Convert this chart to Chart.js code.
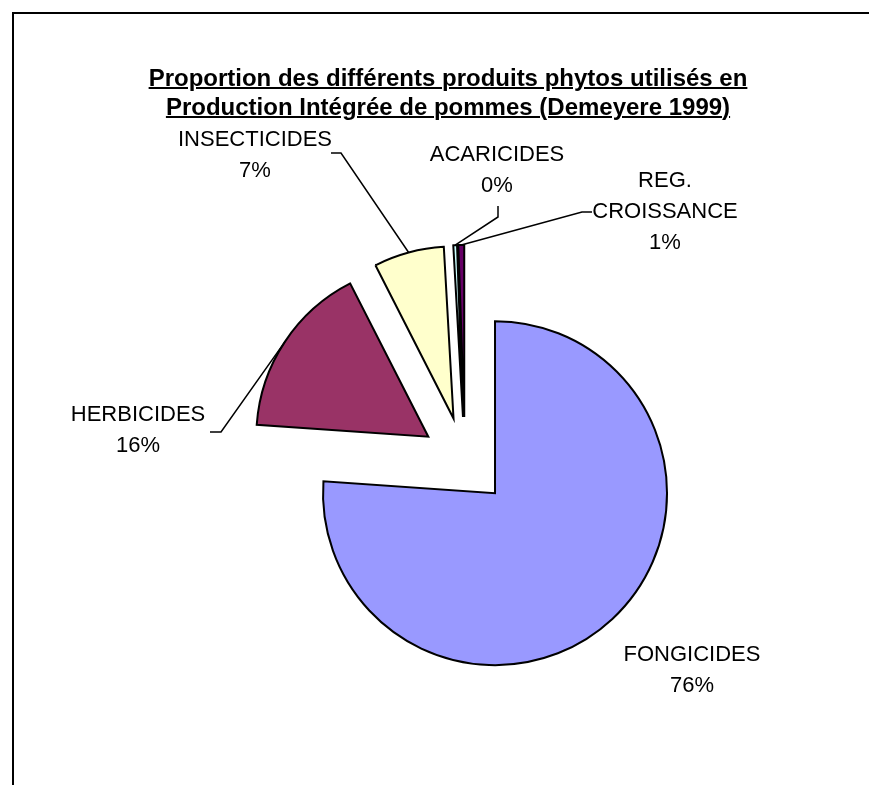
<!DOCTYPE html>
<html lang="fr">
<head>
    <meta charset="UTF-8">
    <title>Produits phytos en Production Intégrée</title>
    <style>
        body {
            margin: 0;
            width: 869px;
            height: 785px;
            overflow: hidden;
            position: relative;
            background: #fff;
            font-family: "Liberation Sans", Arial, sans-serif;
        }
        .frame {
            position: absolute;
            left: 12px;
            top: 12px;
            width: 900px;
            height: 800px;
            border-left: 2px solid #000;
            border-top: 2px solid #000;
        }
        .title {
            position: absolute;
            left: 12px;
            width: 872px;
            text-align: center;
            font-weight: bold;
            font-size: 24px;
            line-height: 28px;
        }
        .title span {
            text-decoration: underline;
            text-decoration-thickness: 2px;
        }
        #chart {
            position: absolute;
            left: 0;
            top: 0;
        }
    </style>
    <script src="https://cdn.jsdelivr.net/npm/chart.js"></script>
</head>
<body>
    <div class="frame"></div>
    <canvas id="chart" width="869" height="785"></canvas>
    <div class="title" style="top:64px"><span>Proportion des différents produits phytos utilisés en</span></div>
    <div class="title" style="top:93px"><span>Production Intégrée de pommes (Demeyere 1999)</span></div>

    <script>
        // data (shares in %)
        const categories = ['FONGICIDES', 'HERBICIDES', 'INSECTICIDES', 'ACARICIDES', ['REG.', 'CROISSANCE']];
        const shares = [76.1, 16.4, 6.6, 0.35, 0.55];
        const sliceColors = ['#9999FF', '#993366', '#FFFFCC', '#CCFFFF', '#660066'];

        const explode = 44; // how far every slice is pulled out, px

        // where each label sits, relative to the pie centre
        const labelAt = [[227, 194], [-327, -46], [-210, -321], [32, -306], [200, -280]];
        // leader lines: elbow then end, relative to the pie centre (none for fongicides)
        const leaders = [null, [[-244, -29], [-255, -29]], [[-124, -308], [-134, -308]],
                         [[33, -244], [33, -255]], [[117, -249], [127, -249]]];

        const total = shares.reduce((a, b) => a + b, 0);

        // chart.js "offset" also grows and narrows the slices, so move them by hand
        const explodeSlices = {
            id: 'explodeSlices',
            beforeDatasetDraw(chart) {
                chart.getDatasetMeta(0).data.forEach(arc => {
                    if (arc._exploded) return;
                    const draw = arc.draw;
                    arc.draw = function (ctx, area) {
                        const mid = (this.startAngle + this.endAngle) / 2;
                        ctx.save();
                        ctx.translate(Math.cos(mid) * explode, Math.sin(mid) * explode);
                        draw.call(this, ctx, area);
                        ctx.restore();
                    };
                    arc._exploded = true;
                });
            }
        };

        const pieLabels = {
            id: 'pieLabels',
            afterDatasetsDraw(chart) {
                const ctx = chart.ctx;
                const meta = chart.getDatasetMeta(0);
                const cx = meta.data[0].x;
                const cy = meta.data[0].y;
                ctx.save();
                ctx.strokeStyle = '#000';
                ctx.lineWidth = 1.5;
                meta.data.forEach((arc, i) => {
                    const mid = (arc.startAngle + arc.endAngle) / 2;
                    const r = arc.outerRadius + explode;
                    if (leaders[i]) {
                        ctx.beginPath();
                        ctx.moveTo(cx + Math.cos(mid) * r, cy + Math.sin(mid) * r);
                        leaders[i].forEach(pt => ctx.lineTo(cx + pt[0], cy + pt[1]));
                        ctx.stroke();
                    }
                    const name = Array.isArray(categories[i]) ? categories[i] : [categories[i]];
                    const lines = name.concat([Math.round(shares[i] / total * 100) + '%']);
                    ctx.fillStyle = '#000';
                    ctx.font = '22px "Liberation Sans", Arial, sans-serif';
                    ctx.textAlign = 'center';
                    ctx.textBaseline = 'middle';
                    lines.forEach((t, k) => {
                        ctx.fillText(t, cx + labelAt[i][0], cy + labelAt[i][1] + k * 31);
                    });
                });
                ctx.restore();
            }
        };

        new Chart(document.getElementById('chart'), {
            type: 'pie',
            data: {
                labels: categories,
                datasets: [{
                    data: shares,
                    backgroundColor: sliceColors,
                    borderColor: '#000',
                    borderWidth: 2,
                    borderJoinStyle: 'miter',
                    offset: 0
                }]
            },
            options: {
                responsive: false,
                animation: false,
                events: [],
                radius: 172,
                layout: { padding: { left: 61, right: 0, top: 137, bottom: 0 } },
                plugins: {
                    legend: { display: false },
                    tooltip: { enabled: false },
                    title: { display: false }
                }
            },
            plugins: [explodeSlices, pieLabels]
        });
    </script>
</body>
</html>
